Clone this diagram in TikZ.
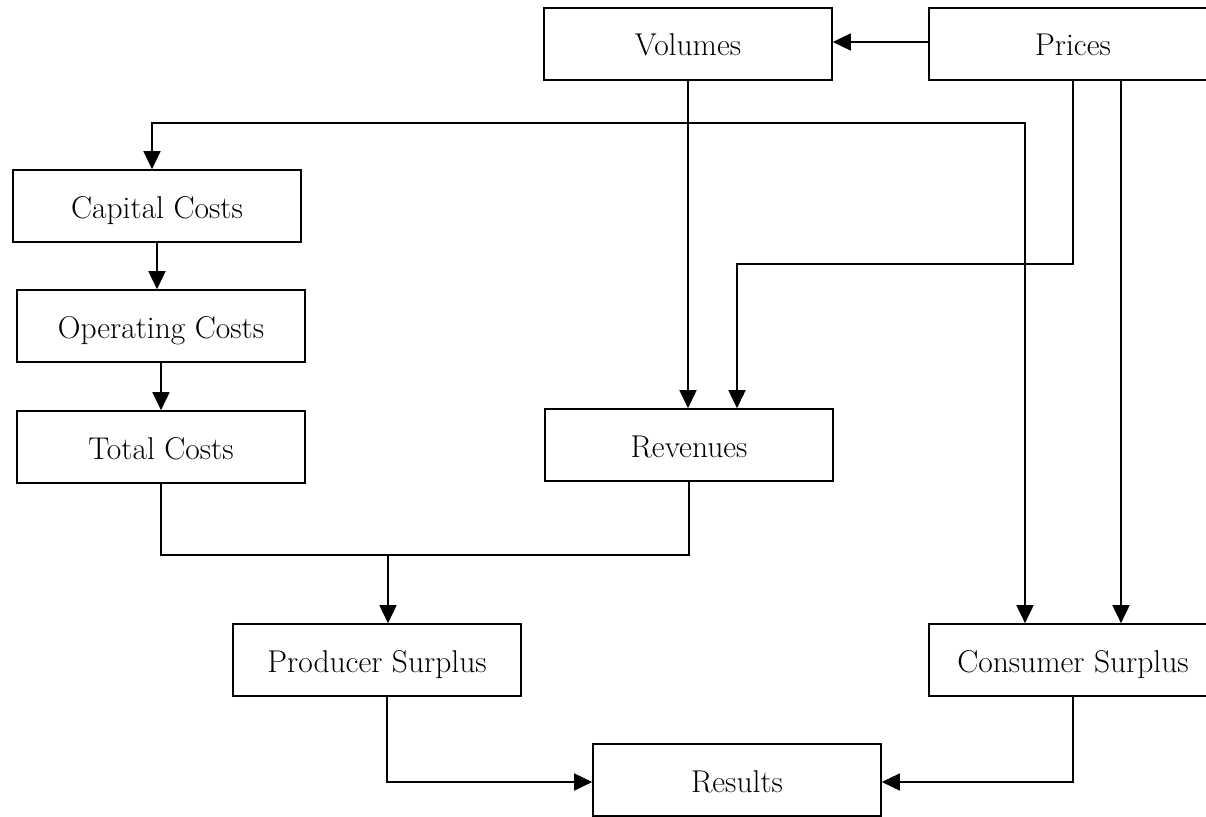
\documentclass[tikz,border=0pt]{standalone}
\usetikzlibrary{arrows.meta}
\begin{document}
\begin{tikzpicture}[x=1pt,y=-1pt,
  box/.style={draw,line width=1.6pt,minimum width=288pt,minimum height=72pt,inner sep=0pt,
    text height=24pt,text depth=0pt,font=\fontsize{31.5}{36}\selectfont},
  conn/.style={line width=1.6pt},
  arr/.style={conn,-{Triangle[length=18pt,width=17pt]}},
  darr/.style={conn,{Triangle[length=18pt,width=17pt]}-{Triangle[length=18pt,width=17pt]}}]
\useasboundingbox (0,0) rectangle (1206,816);
\node[box] (vol) at (688,44) {Volumes};
\node[box] (pri) at (1073,44) {Prices};
\node[box] (cap) at (157,206) {Capital Costs};
\node[box] (op) at (161,326) {Operating Costs};
\node[box] (tot) at (161,447) {Total Costs};
\node[box] (rev) at (689,445) {Revenues};
\node[box] (ps) at (377,660) {Producer Surplus};
\node[box] (cs) at (1073,660) {Consumer Surplus};
\node[box] (res) at (737,780) {Results};
\coordinate (j) at (1025,123);
\coordinate (pj) at (1073,264);
\coordinate (tj) at (388,555);
% Prices -> Volumes
\draw[arr] (pri.west |- 0,42) -- (vol.east |- 0,42);
% Prices -> Revenues
\draw[arr] (pri.south -| pj) -- (pj) -| (rev.north -| 737,0);
% Prices -> Consumer Surplus
\draw[arr] (pri.south -| 1121,0) -- (cs.north -| 1121,0);
% Capital costs <-> Consumer surplus
\draw[darr] (cap.north -| 152,0) |- (j) -- (cs.north -| j);
% chain
\draw[arr] (cap.south -| 157,0) -- (op.north -| 157,0);
\draw[arr] (op.south -| 161,0) -- (tot.north -| 161,0);
\draw[arr] (vol.south -| 688,0) -- (rev.north -| 688,0);
% totals + revenues -> producer surplus
\draw[conn] (tot.south -| 161,0) |- (tj) -| (rev.south -| 689,0);
\draw[arr] (tj) -- (ps.north -| tj);
% surpluses -> results
\draw[arr] (ps.south -| 387,0) |- (res.west |- 0,782);
\draw[arr] (cs.south -| 1073,0) |- (res.east |- 0,782);
\end{tikzpicture}
\end{document}
